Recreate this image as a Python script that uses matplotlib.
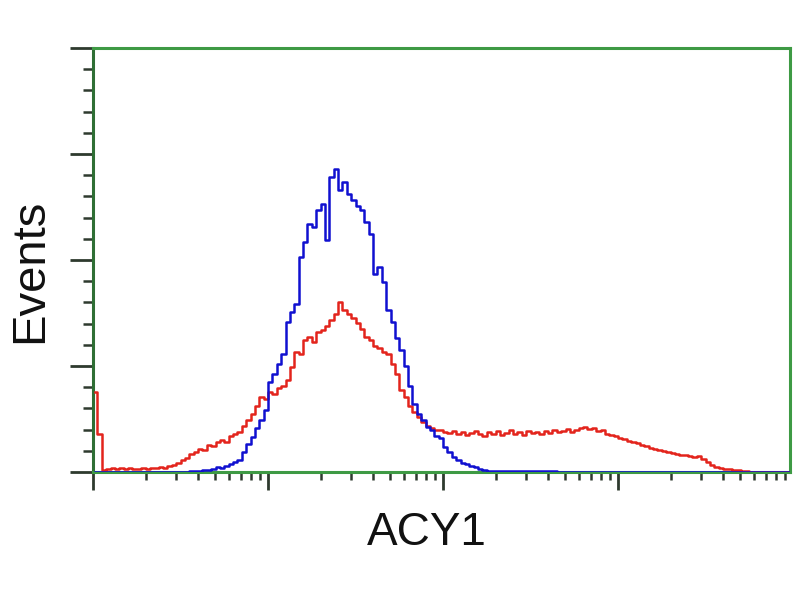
import numpy as np
import matplotlib
matplotlib.use("Agg")
import matplotlib.pyplot as plt
from matplotlib.ticker import LogLocator, MultipleLocator, NullFormatter

# Histogram channels: 40 channels per decade, 4 decades (10^0 .. 10^4)
channels_per_decade = 40

# Control (blue) event counts per channel
blue_counts = [
    0, 0, 0, 0, 0, 0, 0, 0, 0, 0,
    0, 0, 0, 0, 0, 0, 0, 0, 0, 0,
    0, 0, 1, 1, 1, 2, 2, 3, 5, 4,
    6, 8, 10, 12, 20, 28, 35, 44, 52, 62,
    90, 98, 108, 118, 150, 160, 168, 215, 230, 248,
    245, 262, 268, 232, 295, 303, 282, 290, 278, 272,
    266, 262, 250, 238, 198, 205, 190, 162, 150, 134,
    122, 106, 86, 68, 58, 52, 45, 42, 36, 34,
    25, 20, 15, 12, 9, 8, 6, 5, 3, 2,
    1, 1, 1, 1, 1, 1, 1, 1, 1, 1,
    1, 1, 1, 1, 1, 1, 0, 0, 0, 0,
    0, 0, 0, 0, 0, 0, 0, 0, 0, 0,
    0, 0, 0, 0, 0, 0, 0, 0, 0, 0,
    0, 0, 0, 0, 0, 0, 0, 0, 0, 0,
    0, 0, 0, 0, 0, 0, 0, 0, 0, 0,
    0, 0, 0, 0, 0, 0, 0, 0, 0, 0,
]

# ACY1 transfected (red) event counts per channel
red_counts = [
    80, 38, 2, 3, 4, 3, 4, 3, 4, 3,
    3, 4, 3, 4, 4, 5, 4, 6, 7, 9,
    12, 14, 18, 20, 23, 22, 27, 26, 30, 32,
    30, 36, 38, 40, 46, 52, 58, 66, 75, 73,
    80, 78, 84, 86, 92, 105, 120, 118, 132, 135,
    130, 140, 142, 146, 152, 158, 170, 162, 158, 154,
    149, 143, 135, 132, 126, 124, 120, 118, 108, 98,
    82, 75, 66, 60, 55, 50, 46, 44, 42, 42,
    40, 39, 41, 38, 40, 37, 39, 41, 38, 36,
    40, 38, 41, 37, 39, 42, 38, 40, 37, 41,
    39, 40, 38, 41, 39, 42, 40, 41, 43, 40,
    42, 44, 45, 43, 44, 41, 42, 38, 37, 36,
    34, 33, 31, 30, 29, 27, 26, 24, 23, 22,
    21, 20, 19, 18, 17, 17, 16, 15, 16, 13,
    10, 7, 5, 4, 3, 3, 2, 2, 1, 1,
    0, 0, 0, 0, 0, 0, 0, 0, 0, 0,
]

x_label = "ACY1"
y_label = "Events"

blue_x = 10 ** ((np.arange(len(blue_counts)) + 0.5) / channels_per_decade)
red_x = 10 ** ((np.arange(len(red_counts)) + 0.5) / channels_per_decade)

fig = plt.figure(figsize=(8, 6), dpi=100)
ax = fig.add_axes([93 / 800, 1 - 472 / 600, (790 - 93) / 800, (472 - 48) / 600])

ax.plot(red_x, red_counts, drawstyle="steps-mid", color="#e3241c", lw=1.8, zorder=3)
ax.plot(blue_x, blue_counts, drawstyle="steps-mid", color="#1010d0", lw=1.8, zorder=4)

ax.set_xscale("log")
ax.set_xlim(10 ** (0.0), 10 ** ((790 - 93) / 175))
ax.set_ylim(0, 424)

ax.xaxis.set_major_locator(LogLocator(base=10, numticks=10))
ax.xaxis.set_minor_locator(LogLocator(base=10, subs=np.arange(2, 10), numticks=20))
ax.xaxis.set_major_formatter(NullFormatter())
ax.xaxis.set_minor_formatter(NullFormatter())
ax.yaxis.set_major_locator(MultipleLocator(106))
ax.yaxis.set_minor_locator(MultipleLocator(21.2))
ax.yaxis.set_major_formatter(NullFormatter())

green = "#3e9a44"
for s in ax.spines.values():
    s.set_color(green)
    s.set_linewidth(2.2)
ax.spines["left"].set_color("#2f6f35")

tick_col = "#2e3a2e"
ax.tick_params(axis="x", which="major", direction="out", length=13, width=2, color=tick_col)
ax.tick_params(axis="x", which="minor", direction="out", length=6, width=1.8, color=tick_col)
ax.tick_params(axis="y", which="major", direction="out", length=16.5, width=2, color=tick_col)
ax.tick_params(axis="y", which="minor", direction="out", length=7, width=1.8, color=tick_col)
ax.tick_params(labelbottom=False, labelleft=False)

font = ["Liberation Sans", "DejaVu Sans"]
fig.text(30 / 800, 1 - 271 / 600, y_label, rotation=90, ha="center", va="center",
         fontsize=34, family=font, color="#111111")
fig.text(427 / 800, 1 - 533 / 600, x_label, ha="center", va="center",
         fontsize=33, family=font, color="#111111")

fig.savefig("out.png", dpi=100, facecolor="white")
